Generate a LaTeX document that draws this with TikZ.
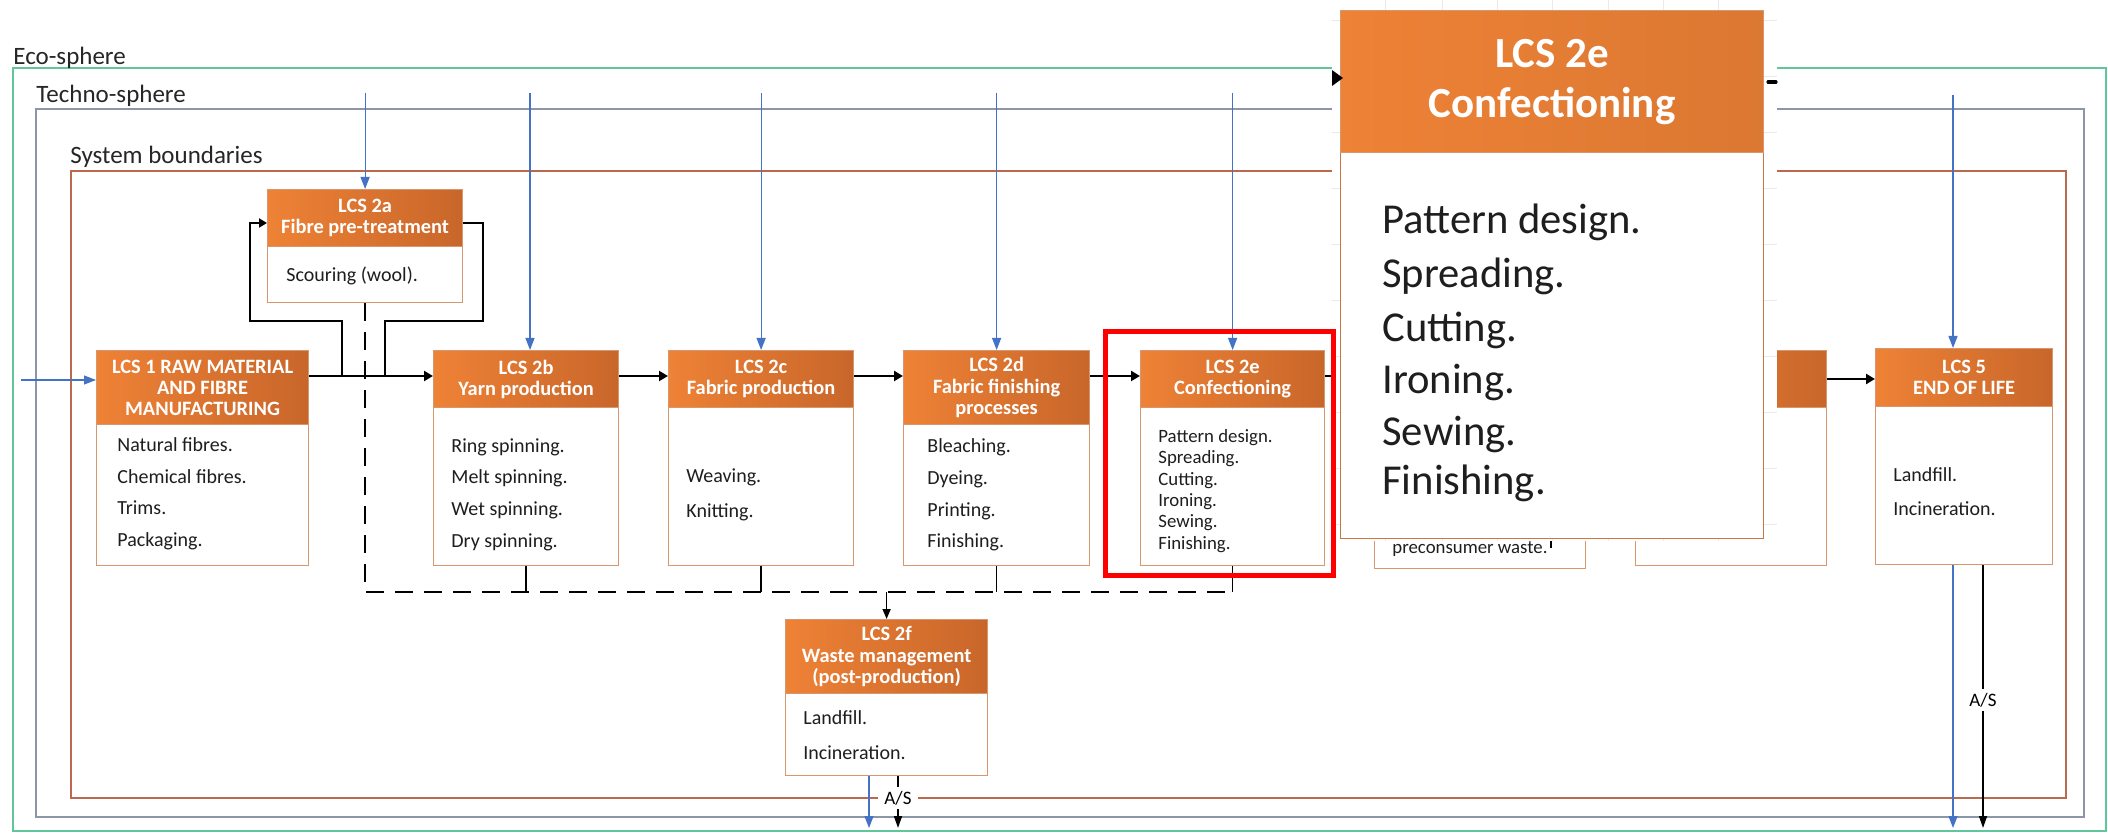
\documentclass[tikz,border=0pt]{standalone}
\usepackage{fontspec}
\setmainfont{Carlito}
\usetikzlibrary{arrows.meta}

\definecolor{ecogreen}{RGB}{96,198,156}
\definecolor{technogray}{RGB}{140,150,168}
\definecolor{sysbound}{RGB}{188,104,78}
\definecolor{inblue}{RGB}{68,114,196}
\definecolor{hdrlight}{RGB}{238,130,54}
\definecolor{hdrdark}{RGB}{200,102,42}
\definecolor{boxedge}{RGB}{214,150,110}
\definecolor{zoomedge}{RGB}{200,120,70}
\definecolor{itemink}{RGB}{30,30,30}
\definecolor{gridline}{RGB}{234,234,234}

% stage box: name, x1, y-top, x2, y-header-bottom, y-bottom, header text
\newcommand\stagebox[7]{%
  \pgfmathsetmacro\stw{(#4-#2)*0.5}%
  \pgfmathsetmacro\sth{(#5-#3)*0.5}%
  \pgfmathsetmacro\stb{(#6-#5)*0.5}%
  \node[stagebody, minimum width=\stw pt, minimum height=\stb pt] (#1) at (#2,#5) {};%
  \node[stagehead, minimum width=\stw pt, minimum height=\sth pt] (#1h) at (#2,#3) {#7};%
}

\begin{document}
\begin{tikzpicture}[x=0.5pt, y=-0.5pt,
  stagebody/.style={draw=boxedge, line width=0.6pt, fill=white, inner sep=0pt, anchor=north west},
  stagehead/.style={draw=boxedge, line width=0.6pt, left color=hdrlight, right color=hdrdark,
    text=white, font=\fontsize{10.2}{10.6}\selectfont\bfseries, align=center, inner sep=0pt, anchor=north west},
  item/.style={font=\fontsize{10}{12}\selectfont, text=itemink, inner sep=0pt, anchor=west,
    text height=6.4pt, text depth=0pt},
  smallitem/.style={item, font=\fontsize{9.4}{11}\selectfont, text height=6pt},
  bigitem/.style={item, font=\fontsize{21.3}{25}\selectfont, text height=13.5pt},
  zonelabel/.style={font=\fontsize{12.5}{14}\selectfont, text=black!85, inner sep=0pt, anchor=base west},
  flow/.style={line width=1.3pt, -{Triangle[length=4.5pt,width=5pt]}},
  loopline/.style={line width=1.2pt},
  inflow/.style={draw=inblue, line width=0.6pt, -{Triangle[length=6pt,width=4.5pt]}, color=inblue},
  outflow/.style={line width=0.8pt, -{Triangle[length=6pt,width=4pt]}},
  stub/.style={line width=0.7pt},
  wasteline/.style={line width=0.8pt, dash pattern=on 9pt off 5.5pt},
  aslabel/.style={fill=white, font=\fontsize{9.5}{11}\selectfont, inner xsep=3pt, inner ysep=2pt},
]
\useasboundingbox (0,0) rectangle (2108,833);

% nested boundaries
\draw[ecogreen, line width=0.9pt] (13,68) rectangle (2106,831);
\draw[technogray, line width=1pt] (36,109) rectangle (2084,817);
\draw[sysbound, line width=0.9pt] (71,171) rectangle (2066,798);
\node[zonelabel] (eco) at (13,65) {Eco-sphere};
\node[zonelabel] (techno) at (36,103) {Techno-sphere};
\node[zonelabel] (sysb) at (70,164) {System boundaries};

% life cycle stages
\stagebox{lcs1}{96}{350}{308}{424}{565}{LCS 1 RAW MATERIAL\\AND FIBRE\\MANUFACTURING}
\stagebox{a2}{267}{189}{462}{246}{302}{LCS 2a\\Fibre pre-treatment}
\stagebox{b2}{433}{350}{618}{407}{565}{LCS 2b\\Yarn production}
\stagebox{c2}{668}{350}{853}{407}{565}{LCS 2c\\Fabric production}
\stagebox{d2}{903}{350}{1089}{424}{565}{LCS 2d\\Fabric finishing\\processes}
\stagebox{e2}{1140}{350}{1324}{407}{565}{LCS 2e\\Confectioning}
\stagebox{f2}{785}{619}{987}{693}{775}{LCS 2f\\Waste management\\(post-production)}
\stagebox{s3}{1374}{350}{1585}{407}{568}{}
\stagebox{s4}{1635}{350}{1826}{407}{565}{}
\stagebox{l5}{1875}{348}{2052}{406}{564}{LCS 5\\END OF LIFE}

% stage contents
\foreach \t/\yy [count=\i] in {Natural fibres./445, Chemical fibres./477, Trims./508, Packaging./540}
  \node[item] (lcs1-\i) at (117,\yy) {\t};
\node[item] (a2-1) at (286,275) {Scouring (wool).};
\foreach \t/\yy [count=\i] in {Ring spinning./446, Melt spinning./477, Wet spinning./509, Dry spinning./541}
  \node[item] (b2-\i) at (451,\yy) {\t};
\foreach \t/\yy [count=\i] in {Weaving./476, Knitting./511}
  \node[item] (c2-\i) at (686,\yy) {\t};
\foreach \t/\yy [count=\i] in {Bleaching./446, Dyeing./478, Printing./510, Finishing./541}
  \node[item] (d2-\i) at (927,\yy) {\t};
\foreach \t/\yy [count=\i] in {Pattern design./437, Spreading./458, Cutting./480, Ironing./501, Sewing./522, Finishing./543}
  \node[smallitem] (e2-\i) at (1158,\yy) {\t};
\foreach \t/\yy [count=\i] in {Landfill./718, Incineration./753}
  \node[item] (f2-\i) at (803,\yy) {\t};
\foreach \t/\yy [count=\i] in {Landfill./475, Incineration./509}
  \node[item] (l5-\i) at (1893,\yy) {\t};
\node[font=\fontsize{9.4}{11}\selectfont, text=itemink, inner sep=0pt, anchor=base west] (s3-1) at (1392,553) {preconsumer waste.};
\draw[line width=0.8pt] (1551,540) -- (1551,548);

% main product flow
\coordinate (mainy) at (0,376);
\coordinate (l5y) at (0,379);
\draw[flow] (lcs1h.east |- mainy) -- (b2h.west |- mainy);
\draw[flow] (b2h.east |- mainy) -- (c2h.west |- mainy);
\draw[flow] (c2h.east |- mainy) -- (d2h.west |- mainy);
\draw[flow] (d2h.east |- mainy) -- (e2h.west |- mainy);
\draw[flow] (e2h.east |- mainy) -- (s3h.west |- mainy);
\draw[flow] (s3h.east |- mainy) -- (s4h.west |- mainy);
\draw[flow] (s4h.east |- l5y) -- (l5h.west |- l5y);

% optional pre-treatment loop
\coordinate (jl) at (342,376);
\coordinate (jr) at (385,376);
\coordinate (ll) at (250,321);
\coordinate (rr) at (483,321);
\coordinate (a2y) at (0,223);
\draw[loopline, -{Triangle[length=4pt,width=4.5pt]}] (jl) |- (ll) |- (a2h.west |- a2y);
\draw[loopline] (a2h.east |- a2y) -| (rr) -| (jr);

% production waste collection
\coordinate (dashy) at (0,592);
\coordinate (dashend) at (1231,592);
\draw[wasteline] (a2.south) -- (a2.south |- dashy) -- (dashend);
\foreach \s in {b2,c2,d2,e2}
  \draw[stub] (\s.south) -- (\s.south |- dashy);
\draw[line width=0.8pt, -{Triangle[length=5pt,width=4pt]}] (f2h.north |- dashy) -- (f2h.north);

% inputs from the eco-sphere
\coordinate (topin) at (0,93);
\foreach \s in {a2h,c2h,d2h,e2h}
  \draw[inflow] (\s.north |- topin) -- (\s.north);
\coordinate (inb) at (530,93);
\draw[inflow] (inb) -- (inb |- b2h.north);
\coordinate (in1) at (21,380);
\draw[inflow] (in1) -- (in1 -| lcs1h.west);
\coordinate (in5) at (1953,95);
\draw[inflow] (in5) -- (in5 |- l5h.north);

% outputs
\coordinate (outy) at (0,828);
\coordinate (f2blue) at (869,0);
\draw[inflow] (f2.south -| f2blue) -- (f2blue |- outy);
\node[aslabel] (as1) at (898,798) {A/S};
\draw[line width=0.8pt] (f2.south -| as1) -- (as1.north);
\draw[outflow] (as1.south) -- (as1 |- outy);
\coordinate (l5blue) at (1953,0);
\draw[inflow] (l5.south -| l5blue) -- (l5blue |- outy);
\node[aslabel] (as2) at (1983,700) {A/S};
\draw[line width=0.8pt] (l5.south -| as2) -- (as2.north);
\draw[outflow] (as2.south) -- (as2 |- outy);

% enlarged view of stage 2e on a gridded pane
\fill[white] (1332,0) rectangle (1777,541);
\foreach \gx in {1385,1442,1497,1552,1608,1663,1718}
  \draw[gridline, line width=0.4pt] (\gx,0) -- (\gx,541);
\foreach \gy in {20,76,132,188,244,300,356,412,468,524}
  \draw[gridline, line width=0.4pt] (1332,\gy) -- (1777,\gy);
\node[stagebody, minimum width=211.5pt, minimum height=193pt, draw=zoomedge] (zoom) at (1340,152) {};
\node[stagehead, minimum width=211.5pt, minimum height=71pt, left color=hdrlight, right color=hdrlight!92!black,
  font=\fontsize{21.5}{25}\selectfont\bfseries] (zoomh) at (1340,10) {LCS 2e\\Confectioning};
\foreach \t/\yy [count=\i] in {Pattern design./220, Spreading./274, Cutting./328, Ironing./380, Sewing./432, Finishing./481}
  \node[bigitem] (zoom-\i) at (1382,\yy) {\t};
\fill (1332,70) -- (1343,78) -- (1332,86) -- cycle;
\draw[line width=1.6pt, line cap=round] (1768,82) -- (1776,82);

% highlight of the enlarged stage
\draw[red, line width=2.5pt] (1105,332) rectangle (1333,575);
\end{tikzpicture}
\end{document}
